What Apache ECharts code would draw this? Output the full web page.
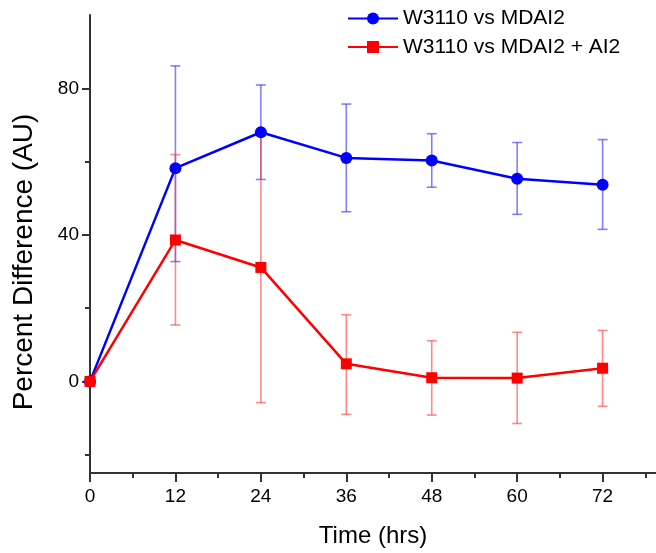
<!DOCTYPE html>
<html>
<head>
<meta charset="utf-8">
<script src="https://cdn.jsdelivr.net/npm/echarts@6/dist/echarts.min.js"></script>
<style>
  html, body { margin: 0; padding: 0; background: #fff; }
  #chart { width: 656px; height: 553px; }
</style>
</head>
<body>
<div id="chart"></div>
<script>
// time points (hrs)
var hours = [0, 12, 24, 36, 48, 60, 72];
// W3110 vs MDAI2
var blueMean = [0, 58.2, 68.0, 61.0, 60.3, 55.3, 53.7];
var blueLow  = [0, 32.7, 55.1, 46.3, 53.0, 45.6, 41.5];
var blueHigh = [0, 86.1, 80.9, 75.7, 67.6, 65.2, 66.0];
// W3110 vs MDAI2 + AI2
var redMean = [0, 38.6, 31.1, 4.8, 1.0, 0.9, 3.6];
var redLow  = [0, 15.4, -5.8, -9.0, -9.2, -11.5, -6.8];
var redHigh = [0, 61.9, 67.7, 18.2, 11.1, 13.4, 13.9];

var xMajor = [0, 12, 24, 36, 48, 60, 72];
var xMinor = [6, 18, 30, 42, 54, 66, 78];
var yMajor = [0, 40, 80];
var yMinor = [-20, 20, 60];

var names = ['W3110 vs MDAI2', 'W3110 vs MDAI2 + AI2'];
var font = 'Liberation Sans, Arial, sans-serif';

function pairs(ys) {
  return hours.map(function (h, i) { return [h, ys[i]]; });
}
function bars(lo, hi) {
  return hours.map(function (h, i) { return [h, lo[i], hi[i]]; });
}
function errorBar(color) {
  return function (params, api) {
    var top = api.coord([api.value(0), api.value(2)]);
    var bot = api.coord([api.value(0), api.value(1)]);
    var w = 5;
    var style = { stroke: color, lineWidth: 1.6 };
    return {
      type: 'group',
      children: [
        { type: 'line', shape: { x1: top[0], y1: top[1], x2: bot[0], y2: bot[1] }, style: style },
        { type: 'line', shape: { x1: top[0] - w, y1: top[1], x2: top[0] + w, y2: top[1] }, style: style },
        { type: 'line', shape: { x1: bot[0] - w, y1: bot[1], x2: bot[0] + w, y2: bot[1] }, style: style }
      ]
    };
  };
}

var chart = echarts.init(document.getElementById('chart'));
var axisColor = '#333';
chart.setOption({
  backgroundColor: '#fff',
  animation: false,
  textStyle: { fontFamily: font },
  grid: { left: 90, right: 0, top: 15, bottom: 79 },
  legend: {
    orient: 'vertical',
    left: 347,
    top: 8,
    padding: 0,
    itemWidth: 50,
    itemHeight: 15,
    itemGap: 7.5,
    data: names,
    textStyle: { fontSize: 21, color: '#000', fontFamily: font }
  },
  xAxis: [{
    type: 'value', min: 0, max: 79.5,
    name: 'Time (hrs)', nameLocation: 'middle', nameGap: 51,
    nameTextStyle: { fontSize: 24, color: '#000', fontFamily: font },
    axisLine: { onZero: false, lineStyle: { color: axisColor, width: 2 } },
    axisTick: { customValues: xMajor, length: 9, lineStyle: { color: axisColor, width: 2 } },
    axisLabel: { customValues: xMajor, margin: 14, fontSize: 19, color: '#000', fontFamily: font },
    splitLine: { show: false }
  }, {
    type: 'value', min: 0, max: 79.5, position: 'bottom',
    axisLine: { show: false, onZero: false },
    axisTick: { customValues: xMinor, length: 5, lineStyle: { color: axisColor, width: 2 } },
    axisLabel: { show: false },
    splitLine: { show: false }
  }],
  yAxis: [{
    type: 'value', min: -25, max: 100,
    name: 'Percent Difference (AU)', nameLocation: 'middle', nameGap: 52,
    nameTextStyle: { fontSize: 28, color: '#000', fontFamily: font, padding: [0, 36, 0, 0] },
    axisLine: { show: true, onZero: false, lineStyle: { color: axisColor, width: 2 } },
    axisTick: { show: true, customValues: yMajor, length: 8, lineStyle: { color: axisColor, width: 2 } },
    axisLabel: { customValues: yMajor, margin: 11, fontSize: 19, color: '#000', fontFamily: font },
    splitLine: { show: false }
  }, {
    type: 'value', min: -25, max: 100, position: 'left',
    axisLine: { show: false, onZero: false },
    axisTick: { show: true, customValues: yMinor, length: 5, lineStyle: { color: axisColor, width: 2 } },
    axisLabel: { show: false },
    splitLine: { show: false }
  }],
  series: [
    {
      type: 'custom', name: 'blueErr', renderItem: errorBar('rgba(60,60,255,0.65)'),
      data: bars(blueLow, blueHigh), encode: { x: 0, y: [1, 2] }, z: 3, silent: true
    },
    {
      type: 'custom', name: 'redErr', renderItem: errorBar('rgba(255,60,60,0.6)'),
      data: bars(redLow, redHigh), encode: { x: 0, y: [1, 2] }, z: 3, silent: true
    },
    {
      type: 'line', name: names[0], data: pairs(blueMean),
      symbol: 'circle', symbolSize: 12, showAllSymbol: true,
      lineStyle: { color: '#0000ff', width: 2.5 },
      itemStyle: { color: '#0000ff' }, z: 4
    },
    {
      type: 'line', name: names[1], data: pairs(redMean),
      symbol: 'rect', symbolSize: 11, showAllSymbol: true,
      lineStyle: { color: '#ff0000', width: 2.5 },
      itemStyle: { color: '#ff0000' }, z: 5
    }
  ]
});
</script>
</body>
</html>
